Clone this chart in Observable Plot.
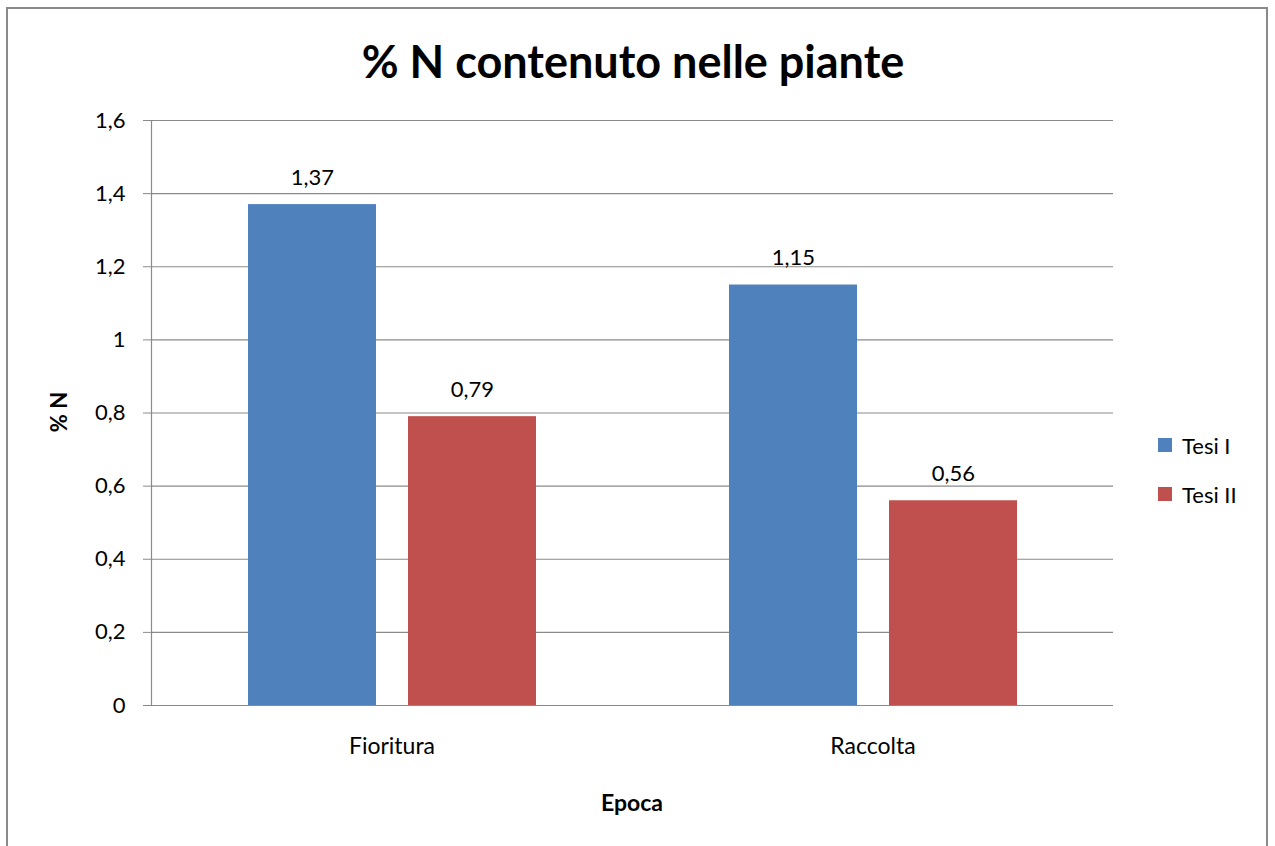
<!DOCTYPE html>
<html>
<head>
<meta charset="utf-8">
<script src="https://cdn.jsdelivr.net/npm/d3@7"></script>
<script src="https://cdn.jsdelivr.net/npm/@observablehq/plot@0.6"></script>
<style>
  html, body { margin: 0; padding: 0; background: #fff; }
  #wrap { position: relative; width: 1275px; height: 846px; overflow: hidden; font-family: Lato, "Open Sans", sans-serif; }
  #border { position: absolute; left: 6px; top: 7px; width: 1262px; height: 850px; border: 2px solid #8a8a8a; box-sizing: border-box; }
  #chart { position: absolute; left: 0; top: 0; }
  .title { position: absolute; left: 0; width: 1266px; top: 31px; text-align: center; font-weight: bold; font-size: 45px; line-height: 60px; color: #000; }
  .ylab { position: absolute; left: 58px; top: 412px; transform: translate(-50%, -50%) rotate(-90deg); font-weight: bold; font-size: 22px; white-space: nowrap; }
  .xlab { position: absolute; left: 632px; top: 802px; transform: translate(-50%, -50%); font-weight: bold; font-size: 23px; }
  .legend { position: absolute; left: 1158px; top: 432px; font-size: 22px; }
  .legend div { display: flex; align-items: center; height: 26px; margin-bottom: 23px; }
  .legend span.sw { display: inline-block; width: 14px; height: 14px; margin-right: 10px; }
</style>
</head>
<body>
<div id="wrap">
  <div id="border"></div>
  <div id="chart"></div>
  <div class="title">% N contenuto nelle piante</div>
  <div class="ylab">% N</div>
  <div class="xlab">Epoca</div>
  <div class="legend" id="legend"></div>
</div>
<script>
const categories = ["Fioritura", "Raccolta"];
const series = ["Tesi I", "Tesi II"];
const tesiI = [1.37, 1.15];
const tesiII = [0.79, 0.56];
const colors = ["#4F81BD", "#C0504D"];
const yTicks = [0, 0.2, 0.4, 0.6, 0.8, 1, 1.2, 1.4, 1.6];

const data = [];
categories.forEach((c, i) => {
  data.push({epoca: c, tesi: series[0], value: tesiI[i]});
  data.push({epoca: c, tesi: series[1], value: tesiII[i]});
});
const fmt = v => String(v).replace(".", ",");
const grid = "#8a8a8a";

const chart = Plot.plot({
  width: 1275,
  height: 846,
  marginLeft: 151,
  marginRight: 162,
  marginTop: 120,
  marginBottom: 141,
  style: {fontFamily: "Lato, 'Open Sans', sans-serif", fontSize: "22px", color: "#000", background: "transparent"},
  fx: {domain: categories, padding: 0, label: null},
  x: {domain: series, paddingInner: 0.2, paddingOuter: 0.603, axis: null},
  y: {domain: [0, 1.6], label: null},
  color: {domain: series, range: colors},
  marks: [
    Plot.ruleY(yTicks, {stroke: grid, strokeWidth: 1.2}),
    Plot.frame({anchor: "left", stroke: grid, strokeWidth: 1.2, facetAnchor: "left"}),
    Plot.axisY({ticks: yTicks, tickFormat: fmt, tickSize: 8, tickPadding: 18, stroke: grid, fontSize: 22, label: null}),
    Plot.axisFx({anchor: "bottom", tickSize: 0, tickPadding: 32, fontSize: 23, label: null}),
    Plot.barY(data, {fx: "epoca", x: "tesi", y: "value", fill: "tesi"}),
    Plot.text(data, {fx: "epoca", x: "tesi", y: "value", text: d => fmt(d.value), dy: -27, fontSize: 22, fill: "#000"})
  ]
});
document.getElementById("chart").appendChild(chart);

const leg = document.getElementById("legend");
series.forEach((s, i) => {
  const row = document.createElement("div");
  row.innerHTML = `<span class="sw" style="background:${colors[i]}"></span><span>${s}</span>`;
  leg.appendChild(row);
});
</script>
</body>
</html>
